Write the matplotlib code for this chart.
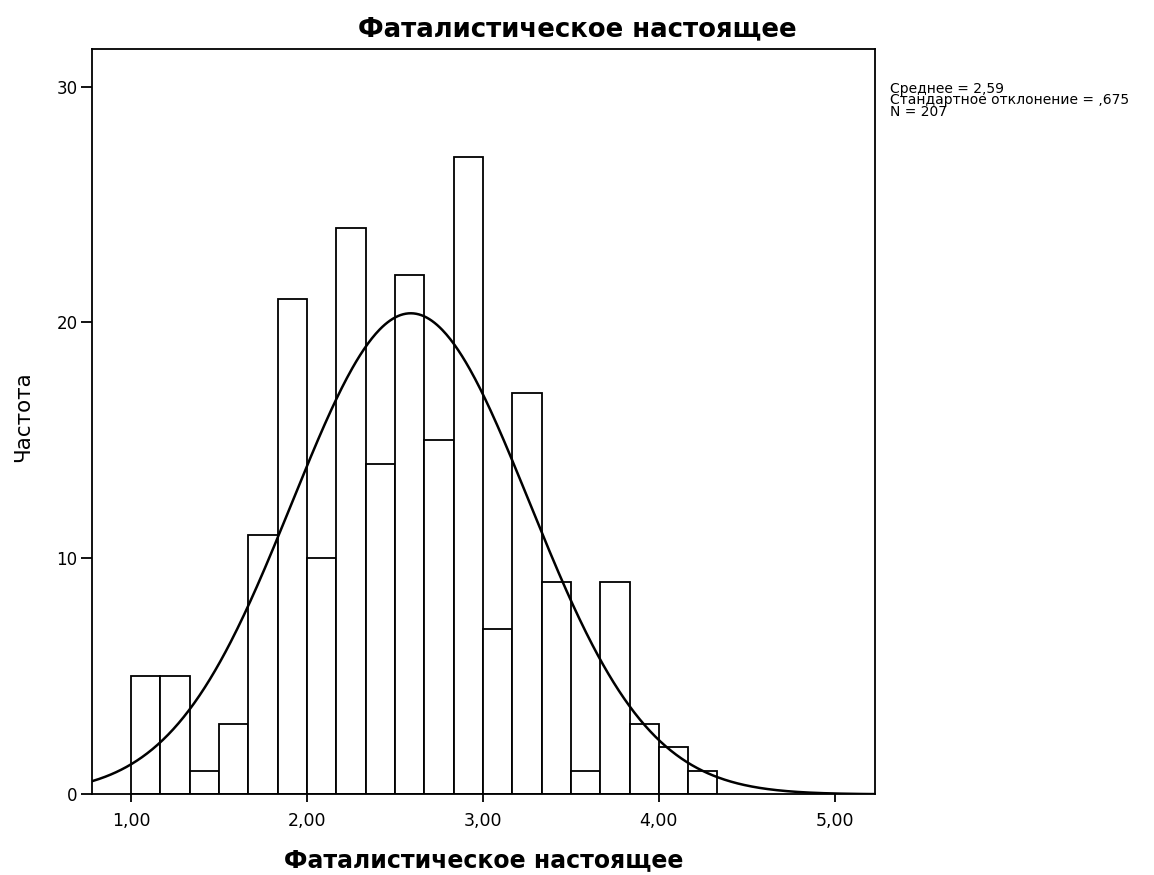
import numpy as np
import matplotlib.pyplot as plt

# Histogram data (bin width 1/6, starting at 1.00)
bin_start = 1.0
bin_width = 1.0 / 6.0
counts = [5, 5, 1, 3, 11, 21, 10, 24, 14, 22, 15, 27, 7, 17, 9, 1, 9, 3, 2, 1]

mean_val = 2.59
std_val = 0.675
n_total = 207

x_ticks = [1, 2, 3, 4, 5]
x_ticklabels = ["1,00", "2,00", "3,00", "4,00", "5,00"]
y_ticks = [0, 10, 20, 30]

title = "Фаталистическое настоящее"
xlabel = "Фаталистическое настоящее"
ylabel = "Частота"
stats_lines = ["Среднее = 2,59", "Стандартное отклонение = ,675", "N = 207"]

plt.rcParams['font.family'] = ['DejaVu Sans']

fig = plt.figure(figsize=(11.54, 8.75), dpi=100)
ax = fig.add_axes([0.080, 0.0922, 0.678, 0.852])

edges = bin_start + bin_width * np.arange(len(counts))
ax.bar(edges, counts, width=bin_width, align="edge", facecolor="white",
       edgecolor="black", linewidth=1.3, zorder=2)

# normal curve scaled to counts
xlim = (0.78, 5.227)
xs = np.linspace(xlim[0], xlim[1], 600)
pdf = n_total * bin_width / (std_val * np.sqrt(2 * np.pi)) * np.exp(-0.5 * ((xs - mean_val) / std_val) ** 2)
ax.plot(xs, pdf, color="black", linewidth=1.8, zorder=3)

ax.set_xlim(*xlim)
ax.set_ylim(0, 31.6)
ax.set_xticks(x_ticks)
ax.set_xticklabels(x_ticklabels)
ax.set_yticks(y_ticks)
ax.tick_params(axis="x", direction="out", length=6, width=1.3, labelsize=12.5, pad=6.5)
ax.tick_params(axis="y", direction="out", length=8, width=1.3, labelsize=12, pad=2.5)
for sp in ax.spines.values():
    sp.set_linewidth(1.3)

ax.set_xlabel(xlabel, fontsize=17, fontweight="bold", va="baseline")
ax.xaxis.set_label_coords(0.5, -0.0975)
ax.set_ylabel(ylabel, fontsize=15.4, va="center")
ax.yaxis.set_label_coords(-0.0885, 0.507)
fig.text(0.5, 1 - 36 / 875, title, ha="center", va="baseline", fontsize=18.7, fontweight="bold")

# summary statistics, tightly stacked like SPSS
fig.text(890 / 1154, 1 - 82 / 875, "\n".join(stats_lines), ha="left", va="top",
         fontsize=10, linespacing=0.76)

fig.savefig("out.png", dpi=100)
